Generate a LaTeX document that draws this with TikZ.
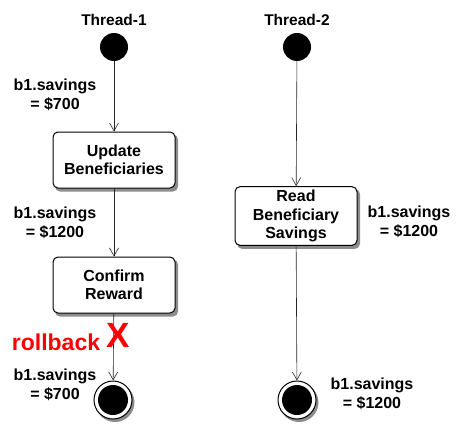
\documentclass[tikz,border=0pt]{standalone}
\usepackage{fontspec}
\setmainfont{Liberation Sans}
\usetikzlibrary{positioning,backgrounds,arrows.meta}

\tikzset{
  activity/.style={draw, line width=1pt, rounded corners=5pt, fill=white, minimum width=122pt,
    minimum height=56pt, align=center, font=\bfseries\fontsize{16}{18.5}\selectfont},
  startstate/.style={circle, fill=black, minimum size=28pt, inner sep=0pt},
  endstate/.style={circle, draw, line width=1pt, fill=white, minimum size=38pt, inner sep=0pt},
  shade/.style={fill=black!45},
  flow/.style={draw=black!85, semithick, -{Straight Barb[length=8pt,width=9pt]}},
  note/.style={align=center, font=\bfseries\fontsize{16}{19}\selectfont},
}

\begin{document}
\begin{tikzpicture}[x=1pt, y=-1pt]
  \useasboundingbox (0,0) rectangle (468,447);

  % thread headings and start states
  \foreach \t/\xpos in {1/114, 2/297} {
    \node[note, font=\bfseries\fontsize{15.5}{18}\selectfont] (head\t) at (\xpos,20) {Thread-\t};
    \node[startstate] (start\t) at (\xpos,47) {};
  }

  % Thread-1
  \node[activity] (update) at (114,160) {Update\\Beneficiaries};
  \node[activity] (confirm) at (114,285) {Confirm\\Reward};
  \node[endstate] (end1) at (113,400) {};
  \fill (end1.center) circle (15pt);

  % Thread-2
  \node[activity] (read) at (296,216) {Read\\Beneficiary\\Savings};
  \node[endstate] (end2) at (297,400) {};
  \fill (end2.center) circle (15pt);

  % shadows
  \begin{scope}[on background layer]
    \foreach \n in {update, confirm, read}
      \fill[shade, rounded corners=5pt] ([shift={(2.5,3)}]\n.north west) rectangle ([shift={(2.5,3)}]\n.south east);
    \foreach \n in {end1, end2}
      \fill[shade] ([shift={(2,2.5)}]\n.center) circle (19.5pt);
  \end{scope}

  % transitions
  \draw[flow] (start1) -- (update);
  \draw[flow] (update) -- (confirm);
  \draw[flow] (confirm) -- (end1);
  \draw[flow] (start2) -- (read);
  \draw[flow] (read) -- (end2);

  % values of b1.savings
  \node[note] (v700a) at (55,95) {b1.savings\\= \$700};
  \node[note] (v1200a) at (55,223) {b1.savings\\= \$1200};
  \node[note] (v700b) at (55,385) {b1.savings\\= \$700};
  \node[note] (v1200b) at (409,222) {b1.savings\\= \$1200};
  \node[note] (v1200c) at (372,394) {b1.savings\\= \$1200};

  % rollback
  \node[text=red, font=\bfseries\fontsize{23}{25}\selectfont] (rollback) at (56,342) {rollback};
  \node[text=red, font=\bfseries\fontsize{35}{37}\selectfont] (cross) at (118,335) {X};
\end{tikzpicture}
\end{document}
